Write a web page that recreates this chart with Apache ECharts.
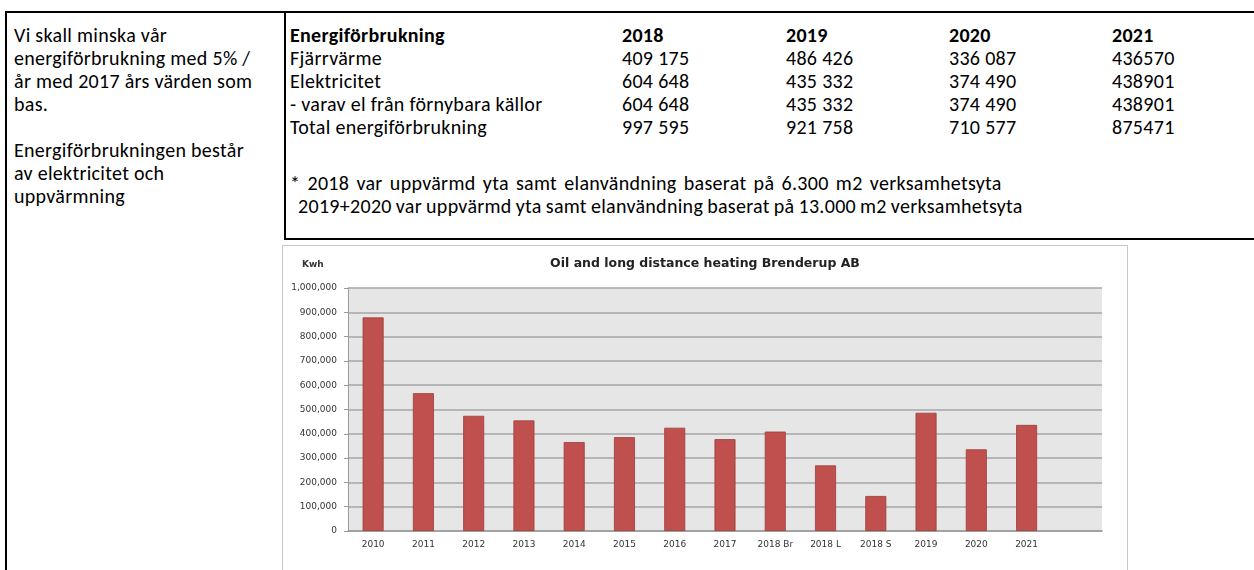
<!DOCTYPE html>
<html>
<head>
<meta charset="utf-8">
<script src="https://cdn.jsdelivr.net/npm/echarts@6/dist/echarts.min.js"></script>
<style>
    html, body {margin: 0; padding: 0; background: #fff; width: 1254px; height: 570px; overflow: hidden;}
    body {position: relative; font-family: Carlito, Lato, "Open Sans", sans-serif; color: #000;}
    .line {position: absolute; background: #000;}
    .txt {position: absolute; font-size: 20px; white-space: nowrap; line-height: 23px; letter-spacing: 0.3px;}
    #main1 {position: absolute; left: 282px; top: 245px; width: 844px; height: 340px; border: 1px solid #c8c8c8; background: #fff;}
</style>
</head>
<body>
<div class="line" style="left:5px;top:11px;width:1249px;height:1.5px;"></div>
<div class="line" style="left:5px;top:11px;width:1.5px;height:560px;"></div>
<div class="line" style="left:284px;top:11px;width:1.5px;height:229px;"></div>
<div class="line" style="left:284px;top:238px;width:970px;height:1.5px;"></div>

<div id="leftText" class="txt" style="left:14px;top:24px;"></div>
<div id="table" class="txt" style="left:290px;top:24px;"></div>
<div id="note" class="txt" style="left:290px;top:172px;"></div>

<div id="main1"></div>

<script>
    // left column text
    var introLines = ['Vi skall minska vår', 'energiförbrukning med 5% /', 'år med 2017 års värden som', 'bas.', '', 'Energiförbrukningen består', 'av elektricitet och', 'uppvärmning'];

    // table above the chart
    var tableYears = ['2018', '2019', '2020', '2021'];
    var rowLabels = ['Fjärrvärme', 'Elektricitet', '- varav el från förnybara källor', 'Total energiförbrukning'];
    var rows2018 = ['409 175', '604 648', '604 648', '997 595'];
    var rows2019 = ['486 426', '435 332', '435 332', '921 758'];
    var rows2020 = ['336 087', '374 490', '374 490', '710 577'];
    var rows2021 = ['436570', '438901', '438901', '875471'];
    var noteLines = ['* 2018 var uppvärmd yta samt elanvändning baserat på 6.300 m2 verksamhetsyta',
        '  2019+2020 var uppvärmd yta samt elanvändning baserat på 13.000 m2 verksamhetsyta'];

    // chart data
    var categories = ['2010', '2011', '2012', '2013', '2014', '2015', '2016', '2017', '2018 Br', '2018 L', '2018 S', '2019', '2020', '2021', ''];
    var heating = [879000, 567000, 474000, 455000, 366000, 386000, 425000, 378000, 409175, 270000, 144000, 486426, 336087, 436570, null];

    var html = '';
    for (var i = 0; i < introLines.length; i++) {
        html += '<div>' + (introLines[i] || '&nbsp;') + '</div>';
    }
    document.getElementById('leftText').innerHTML = html;

    var colX = [0, 332, 496, 659, 822];
    var cols = [rows2018, rows2019, rows2020, rows2021];
    html = '<div style="position:relative;font-weight:bold;height:23px;"><span style="position:absolute;left:0">Energiförbrukning</span>';
    for (var c = 0; c < tableYears.length; c++) {
        html += '<span style="position:absolute;left:' + colX[c + 1] + 'px">' + tableYears[c] + '</span>';
    }
    html += '</div>';
    for (var r = 0; r < rowLabels.length; r++) {
        html += '<div style="position:relative;height:23px;"><span style="position:absolute;left:0">' + rowLabels[r] + '</span>';
        for (c = 0; c < cols.length; c++) {
            html += '<span style="position:absolute;left:' + colX[c + 1] + 'px">' + cols[c][r] + '</span>';
        }
        html += '</div>';
    }
    document.getElementById('table').innerHTML = html;
    // the two note lines are spaced a little differently in the original
    var noteWordSpacing = ['2.4px', '-0.8px'];
    document.getElementById('note').innerHTML = noteLines.map(function (s, k) {
        return '<div style="white-space:pre;word-spacing:' + noteWordSpacing[k] + '">' + s + '</div>';
    }).join('');

    var myChart = echarts.init(document.getElementById('main1'));
    var option = {
        animation: false,
        textStyle: {fontFamily: 'DejaVu Sans'},
        title: {
            text: 'Oil and long distance heating Brenderup AB',
            left: 'center',
            top: 6,
            textStyle: {fontSize: 12.5, fontWeight: 'bold', color: '#222'}
        },
        graphic: [{
            type: 'text', left: 19, top: 14,
            style: {text: 'Kwh', fontSize: 9, fontWeight: 'bold', fill: '#333', fontFamily: 'DejaVu Sans'}
        }],
        grid: {
            left: 65, top: 42, right: 25, height: 243,
            show: true, backgroundColor: '#e6e6e6', borderWidth: 0
        },
        xAxis: {
            type: 'category',
            data: categories,
            axisLine: {lineStyle: {color: '#9a9a9a', width: 1.5}},
            axisTick: {show: false},
            axisLabel: {fontSize: 9, color: '#333', margin: 9, interval: 0}
        },
        yAxis: {
            type: 'value',
            min: 0, max: 1000000, interval: 100000,
            axisLine: {show: true, lineStyle: {color: '#9a9a9a'}},
            axisTick: {show: true, length: 4, lineStyle: {color: '#9a9a9a'}},
            splitLine: {lineStyle: {color: '#a6a6a6', width: 1.5}},
            axisLabel: {
                fontSize: 9, color: '#333', margin: 11,
                formatter: function (v) {
                    return v.toString().replace(/\B(?=(\d{3})+(?!\d))/g, ',');
                }
            }
        },
        series: [{
            name: 'Kwh',
            type: 'bar',
            data: heating,
            barWidth: 21,
            itemStyle: {color: '#c0504d', borderColor: '#9b3d3a', borderWidth: 0.8}
        }]
    };
    myChart.setOption(option);
</script>
</body>
</html>
